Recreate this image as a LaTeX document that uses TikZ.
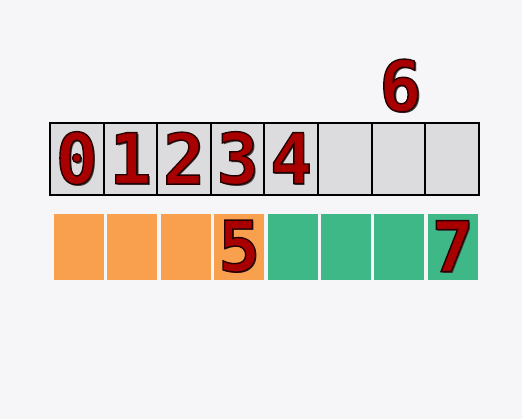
\documentclass[tikz,border=0pt]{standalone}
\usepackage{fontspec}
\usetikzlibrary{positioning}
\newfontfamily\digitfont{DejaVu Sans Mono}
\definecolor{bgwhite}{HTML}{F6F5F7}
\definecolor{cellgray}{HTML}{DCDCDE}
\definecolor{lorange}{HTML}{F9A04F}
\definecolor{lgreen}{HTML}{3EB886}
\definecolor{digred}{HTML}{A80000}
% red digit with a dark outline and a drop shadow
\newcommand{\digit}[1]{%
  \makebox[0pt][l]{\kern1.8pt\raisebox{-1.8pt}{\textcolor{black!75}{#1}}}%
  \textcolor{digred}{%
  \special{pdf:literal direct 2 Tr 1.4 w 0.15 0 0 RG}#1\special{pdf:literal direct 0 Tr}}}

\begin{document}
\begin{tikzpicture}[x=1pt,y=-1pt,
    cell/.style={draw=black,line width=2pt,fill=cellgray,minimum width=53.6pt,minimum height=72pt,inner sep=0pt,outer sep=0pt},
    lbox/.style={fill=lorange,minimum width=50pt,minimum height=66pt,inner sep=0pt,outer sep=0pt},
    rbox/.style={lbox,fill=lgreen},
    num/.style={inner sep=0pt,font=\digitfont\bfseries\fontsize{70}{70}\selectfont}]
    \useasboundingbox[fill=bgwhite] (0,0) rectangle (522,419);

    % the array
    \node[cell,num] (a0) at (76.8,159) {\digit{0}};
    \node[cell,num] (a1) [right=0pt of a0] {\digit{1}};
    \node[cell,num] (a2) [right=0pt of a1] {\digit{2}};
    \node[cell,num] (a3) [right=0pt of a2] {\digit{3}};
    \node[cell,num] (a4) [right=0pt of a3] {\digit{4}};
    \node[cell] (a5) [right=0pt of a4] {};
    \node[cell] (a6) [right=0pt of a5] {};
    \node[cell] (a7) [right=0pt of a6] {};
    \draw[line width=2.6pt] (a0.north west) rectangle (a7.south east);

    \node[num] (six) [above=9pt of a6,xshift=2pt] {\digit{6}};

    % the blocks below
    \node[lbox] (b0) at (79,247) {};
    \node[lbox] (b1) [right=3.4pt of b0] {};
    \node[lbox] (b2) [right=3.4pt of b1] {};
    \node[lbox,num] (b3) [right=3.4pt of b2] {\digit{5}};
    \node[rbox] (b4) [right=3.4pt of b3] {};
    \node[rbox] (b5) [right=3.4pt of b4] {};
    \node[rbox] (b6) [right=3.4pt of b5] {};
    \node[rbox,num] (b7) [right=3.4pt of b6] {\digit{7}};
\end{tikzpicture}
\end{document}
